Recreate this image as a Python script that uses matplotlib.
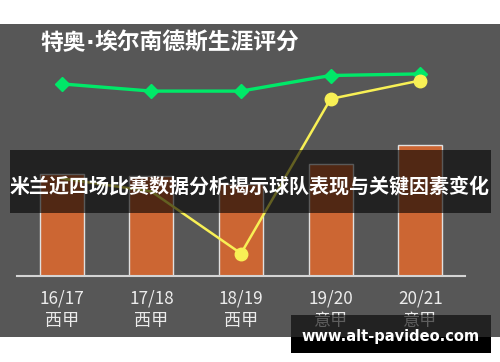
import matplotlib.pyplot as plt
from matplotlib.patches import Rectangle

plt.rcParams['font.family'] = ['Noto Sans CJK SC', 'DejaVu Sans']

# data
seasons = ["16/17", "17/18", "18/19", "19/20", "20/21"]
leagues = ["西甲", "西甲", "西甲", "意甲", "意甲"]
bar_vals = [5.08, 5.0, 4.6, 5.58, 6.52]
green_vals = [9.58, 9.22, 9.22, 10.0, 10.08]
yellow_vals = [4.85, 4.2, 1.1, 8.83, 9.75]

title_parts = ["特奥", "·", "埃尔南德斯生涯评分"]
banner = "米兰近四场比赛数据分析揭示球队表现与关键因素变化"
watermark = "www.alt-pavideo.com"

W, H = 500, 362
fig = plt.figure(figsize=(W / 100, H / 100), dpi=100)
fig.patch.set_facecolor("white")

def px(x0, y0, x1, y1):
    # pixel box (top-left origin) -> figure fraction rect
    return (x0 / W, 1 - y1 / H, (x1 - x0) / W, (y1 - y0) / H)

# gray panel
x, y, w, h = px(0, 24, 500, 337)
fig.patches.append(Rectangle((x, y), w, h, transform=fig.transFigure,
                             facecolor="#575757", edgecolor="none", zorder=-1))

ax = fig.add_axes(px(17, 30, 465, 275.5))
ax.set_zorder(1)
ax.set_facecolor("none")
xs = range(len(seasons))
ax.bar(xs, bar_vals, width=0.49, color="#cc6633", edgecolor="#e0e0e0",
       linewidth=1.0, zorder=2)
ax.plot(xs, green_vals, color="#00e868", lw=2.4, marker="D", ms=7.5, zorder=3)
# first two markers sit under the banner text and don't show in the original
ax.plot(xs, yellow_vals, color="#f8f055", lw=1.8, marker="o", ms=9,
        markevery=[2, 3, 4], zorder=4)

ax.set_xlim(-0.5, 4.5)
ax.set_ylim(0, 12.275)
for s in ["top", "left", "right"]:
    ax.spines[s].set_visible(False)
ax.spines["bottom"].set_color("#d4d4d4")
ax.spines["bottom"].set_linewidth(1.5)
ax.set_yticks([])
ax.set_xticks(list(xs))
ax.set_xticklabels([f"{s}\n{l}" for s, l in zip(seasons, leagues)],
                   fontsize=12.3, color="#ececec", linespacing=1.3)
ax.tick_params(axis="x", length=0, pad=10)

# title, middle dot in a latin font so it stays narrow
r = fig.canvas.get_renderer()
tx = 40
for part in title_parts:
    fam = "DejaVu Sans" if part == "·" else ["Noto Sans CJK SC", "DejaVu Sans"]
    t = fig.text(tx / W, 1 - 43 / H, part, fontsize=16.4, fontweight="bold",
                 color="white", ha="left", va="center", family=fam, zorder=6)
    tx += t.get_window_extent(r).width

# dark banner across the middle
x, y, w, h = px(10, 150, 491, 213)
fig.patches.append(Rectangle((x, y), w, h, transform=fig.transFigure,
                             facecolor="black", alpha=0.6, edgecolor="none", zorder=5))
fig.text(249.5 / W, 1 - 186.5 / H, banner, fontsize=14.4, fontweight="bold",
         color="white", ha="center", va="center", zorder=6)

# watermark box
x, y, w, h = px(291, 315, 491, 337)
fig.patches.append(Rectangle((x, y), w, h, transform=fig.transFigure,
                             facecolor="black", alpha=0.6, edgecolor="none", zorder=5))
x, y, w, h = px(291, 337, 491, 353)
fig.patches.append(Rectangle((x, y), w, h, transform=fig.transFigure,
                             facecolor="black", edgecolor="none", zorder=5))
fig.text(390.5 / W, 1 - 337 / H, watermark, fontsize=10.5, fontweight="bold",
         color="white", ha="center", va="center", family="DejaVu Sans", zorder=6)

fig.savefig("out.png", dpi=100)
